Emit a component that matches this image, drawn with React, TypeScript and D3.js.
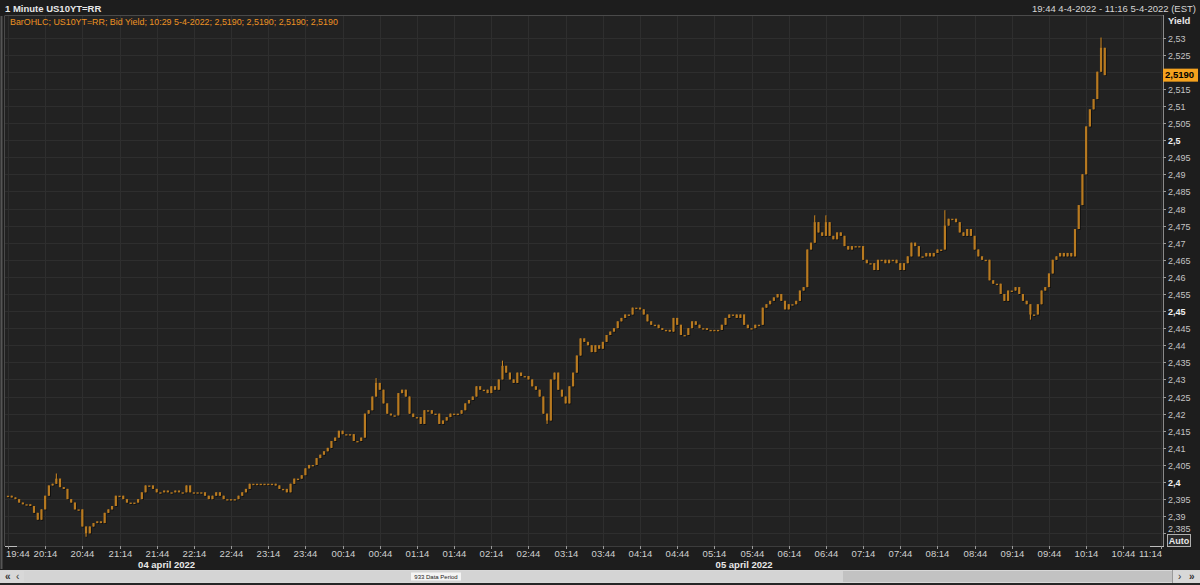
import React from 'react';
import * as d3 from 'd3';

const W = 1200;
const H = 585;

const titleText = '1 Minute US10YT=RR';
const rangeText = '19:44 4-4-2022 - 11:16 5-4-2022 (EST)';
const legendText = 'BarOHLC; US10YT=RR; Bid Yield; 10:29 5-4-2022; 2,5190; 2,5190; 2,5190; 2,5190';
const lastValue = 2.519;
const lastLabel = '2,5190';
const periodLabel = '933 Data Period';

const startTime = new Date(2022, 3, 4, 19, 44);
const endTime = new Date(2022, 3, 5, 11, 16);
const barStepMinutes = 3;

const closes = [
  2.396, 2.3955, 2.395, 2.394, 2.3935, 2.3935, 2.393, 2.391, 2.389, 2.392,
  2.396, 2.399, 2.3995, 2.401, 2.3985, 2.398, 2.395, 2.394, 2.392, 2.392,
  2.387, 2.385, 2.387, 2.388, 2.3885, 2.388, 2.391, 2.392, 2.393, 2.396,
  2.396, 2.395, 2.394, 2.394, 2.394, 2.395, 2.397, 2.399, 2.399, 2.398,
  2.397, 2.397, 2.3975, 2.397, 2.397, 2.3975, 2.397, 2.397, 2.399, 2.397,
  2.397, 2.397, 2.397, 2.396, 2.395, 2.396, 2.397, 2.396, 2.395, 2.395,
  2.395, 2.395, 2.396, 2.397, 2.398, 2.3995, 2.3995, 2.3995, 2.3995, 2.3995,
  2.3995, 2.3995, 2.399, 2.398, 2.398, 2.397, 2.3995, 2.401, 2.401, 2.402,
  2.404, 2.405, 2.405, 2.407, 2.408, 2.409, 2.41, 2.412, 2.413, 2.415,
  2.414, 2.414, 2.414, 2.412, 2.412, 2.413, 2.42, 2.421, 2.425, 2.429,
  2.427, 2.423, 2.42, 2.4195, 2.4195, 2.426, 2.427, 2.425, 2.42, 2.419,
  2.419, 2.417, 2.421, 2.421, 2.42, 2.42, 2.417, 2.418, 2.419, 2.42,
  2.42, 2.42, 2.421, 2.423, 2.424, 2.425, 2.428, 2.427, 2.427, 2.426,
  2.428, 2.427, 2.43, 2.434, 2.432, 2.43, 2.429, 2.432, 2.431, 2.431,
  2.43, 2.428, 2.427, 2.425, 2.42, 2.418, 2.43, 2.432, 2.427, 2.425,
  2.423, 2.428, 2.432, 2.437, 2.442, 2.441, 2.44, 2.438, 2.44, 2.439,
  2.441, 2.443, 2.444, 2.445, 2.447, 2.448, 2.449, 2.449, 2.451, 2.451,
  2.4505, 2.449, 2.447, 2.446, 2.446, 2.445, 2.4445, 2.4445, 2.444, 2.448,
  2.446, 2.443, 2.443, 2.445, 2.447, 2.446, 2.445, 2.445, 2.4445, 2.4445,
  2.4445, 2.4445, 2.446, 2.448, 2.449, 2.449, 2.448, 2.449, 2.446, 2.445,
  2.445, 2.446, 2.446, 2.451, 2.452, 2.453, 2.454, 2.455, 2.453, 2.4505,
  2.452, 2.452, 2.453, 2.456, 2.457, 2.468, 2.47, 2.476, 2.473, 2.472,
  2.476, 2.472, 2.471, 2.473, 2.472, 2.469, 2.468, 2.469, 2.469, 2.469,
  2.465, 2.464, 2.464, 2.462, 2.465, 2.465, 2.464, 2.465, 2.465, 2.464,
  2.462, 2.464, 2.466, 2.47, 2.469, 2.466, 2.466, 2.467, 2.466, 2.467,
  2.468, 2.468, 2.475, 2.477, 2.477, 2.476, 2.473, 2.472, 2.474, 2.472,
  2.468, 2.466, 2.465, 2.465, 2.459, 2.458, 2.458, 2.455, 2.453, 2.456,
  2.456, 2.457, 2.455, 2.453, 2.452, 2.449, 2.449, 2.452, 2.456, 2.457,
  2.461, 2.465, 2.466, 2.467, 2.466, 2.467, 2.466, 2.474, 2.481, 2.49,
  2.504, 2.509, 2.512, 2.52, 2.527, 2.519,
];

// intrabar extremes that stick out of the open-close range
const spikeIdx = [13, 21, 99, 133, 145, 217, 220, 252, 275, 294];
const spikeVal = [2.4025, 2.384, 2.4304, 2.4355, 2.417, 2.478, 2.478, 2.4795, 2.4475, 2.53];

const yTickValues = [
  2.385, 2.39, 2.395, 2.4, 2.405, 2.41, 2.415, 2.42, 2.425, 2.43,
  2.435, 2.44, 2.445, 2.45, 2.455, 2.46, 2.465, 2.47, 2.475, 2.48,
  2.485, 2.49, 2.495, 2.5, 2.505, 2.51, 2.515, 2.52, 2.525, 2.53,
];
const majorYTicks = [2.4, 2.45, 2.5];
const xTickCount = 32;
const xTickStepMinutes = 30;
const dayLabels = ['04 april 2022', '05 april 2022'];
const dayStarts = [new Date(2022, 3, 4, 19, 44), new Date(2022, 3, 5, 0, 0)];
const dayEnds = [new Date(2022, 3, 5, 0, 0), new Date(2022, 3, 5, 11, 16)];

const FONT = '"Liberation Sans", Arial, sans-serif';
const BG = '#222222';
const GRID = '#2e2e2e';

const PL = 5, PR = 1163, PT = 16, PB = 546;

export default function App() {
  const x = d3.scaleTime().domain([startTime, endTime]).range([8, 1163]);
  const y = d3.scaleLinear().domain([2.3813, 2.5363]).range([PB, PT]);
  const fmtY = (v: number) => d3.format('.3~f')(v).replace('.', ',');
  const fmtT = d3.timeFormat('%H:%M');

  const xTicks = d3.range(xTickCount).map((k) => d3.timeMinute.offset(startTime, k * xTickStepMinutes));

  const bars = closes.map((c, i) => {
    const t = d3.timeMinute.offset(startTime, i * barStepMinutes);
    const o = i === 0 ? c : closes[i - 1];
    let hi = Math.max(o, c);
    let lo = Math.min(o, c);
    const k = spikeIdx.indexOf(i);
    if (k >= 0) {
      hi = Math.max(hi, spikeVal[k]);
      lo = Math.min(lo, spikeVal[k]);
    }
    return { t, o, c, hi, lo };
  });

  const bodyW = 2.2;
  const lastY = y(lastValue);

  return (
    <div style={{ width: W, height: H, background: '#1d1d1d' }}>
      <style>{'body{margin:0;background:#1d1d1d;}'}</style>
      <svg width={W} height={H} style={{ display: 'block' }} fontFamily={FONT}>
        <rect x={0} y={0} width={W} height={H} fill="#1d1d1d" />
        {/* header */}
        <text x={5} y={11.5} fontSize={9.5} fontWeight="bold" fill="#e8e8e8">{titleText}</text>
        <text x={1196} y={11.5} fontSize={9.5} fill="#d6d6d6" textAnchor="end">{rangeText}</text>

        {/* plot background */}
        <rect x={PL} y={PT} width={PR - PL} height={PB - PT} fill={BG} />
        <clipPath id="plotclip">
          <rect x={PL} y={PT} width={PR - PL} height={PB - PT} />
        </clipPath>

        {/* grid */}
        <g clipPath="url(#plotclip)">
          {yTickValues.map((v) => (
            <line key={'gy' + v} x1={PL} x2={PR} y1={Math.round(y(v)) + 0.5} y2={Math.round(y(v)) + 0.5} stroke={GRID} strokeWidth={1} />
          ))}
          {xTicks.map((t, k) => (
            <line key={'gx' + k} x1={Math.round(x(t)) + 0.5} x2={Math.round(x(t)) + 0.5} y1={PT} y2={PB} stroke={GRID} strokeWidth={1} />
          ))}
        </g>

        {/* bars */}
        <g clipPath="url(#plotclip)">
          {bars.map((b, i) => {
            const cx = x(b.t);
            const yTop = y(Math.max(b.o, b.c));
            const h = Math.max(1.4, Math.abs(y(b.o) - y(b.c)));
            return (
              <g key={'s' + i}>
                <rect x={cx - bodyW / 2 + 0.8} y={yTop + 0.8} width={bodyW} height={h} fill="#0f0f0f" />
                <line x1={cx + 0.8} x2={cx + 0.8} y1={y(b.hi) + 0.8} y2={y(b.lo) + 0.8} stroke="#0f0f0f" strokeWidth={1} />
              </g>
            );
          })}
          {bars.map((b, i) => {
            const cx = x(b.t);
            const yTop = y(Math.max(b.o, b.c));
            const h = Math.max(1.4, Math.abs(y(b.o) - y(b.c)));
            return (
              <g key={'b' + i}>
                <line x1={cx} x2={cx} y1={y(b.hi)} y2={y(b.lo)} stroke="#d28a22" strokeWidth={1} />
                <rect x={cx - bodyW / 2} y={yTop} width={bodyW} height={h} fill="#b87a20" />
              </g>
            );
          })}
        </g>

        {/* legend */}
        <text x={10} y={25} fontSize={8.9} fill="#ee9322">{legendText}</text>

        {/* frame */}
        <line x1={PL - 0.5} x2={PR} y1={PT - 0.5} y2={PT - 0.5} stroke="#4a4a4a" />
        <line x1={PL - 0.5} x2={PL - 0.5} y1={PT} y2={PB} stroke="#4a4a4a" />
        <line x1={1.5} x2={1.5} y1={PT} y2={H - 16} stroke="#555555" strokeWidth={2} />
        <line x1={PR + 0.5} x2={PR + 0.5} y1={PT - 1} y2={PB + 1} stroke="#8a8a8a" />
        <line x1={PL} x2={PR + 1} y1={PB + 0.5} y2={PB + 0.5} stroke="#3c3c3c" />
        <line x1={PL} x2={PL + 12} y1={PB + 0.5} y2={PB + 0.5} stroke="#bdbdbd" />
        <line x1={PR - 13} x2={PR + 1} y1={PB + 0.5} y2={PB + 0.5} stroke="#bdbdbd" />

        {/* right axis */}
        <text x={1168} y={24} fontSize={9.5} fontWeight="bold" fill="#e8e8e8">Yield</text>
        {yTickValues.map((v) => {
          const yy = Math.round(y(v)) + 0.5;
          const major = majorYTicks.some((m) => Math.abs(m - v) < 1e-9);
          const hidden = Math.abs(yy - lastY) < 8;
          return (
            <g key={'yt' + v}>
              <line x1={PR} x2={PR + 3} y1={yy} y2={yy} stroke="#9a9a9a" />
              {!hidden && (
                <text x={1168} y={Math.min(yy, 529) + 3.3} fontSize={9} fill={major ? '#f0f0f0' : '#c4c4c4'} fontWeight={major ? 'bold' : 'normal'}>
                  {fmtY(v)}
                </text>
              )}
            </g>
          );
        })}
        <rect x={PR} y={lastY - 6.5} width={35} height={13} fill="#f5a21e" />
        <text x={PR + 2} y={lastY + 3.3} fontSize={9.5} fontWeight="bold" fill="#000">{lastLabel}</text>

        {/* auto button */}
        <rect x={1167.5} y={534.5} width={23} height={12} fill="#2a2a2a" stroke="#b0b0b0" />
        <text x={1179} y={544} fontSize={9} fontWeight="bold" fill="#e6e6e6" textAnchor="middle">Auto</text>

        {/* bottom axis */}
        {xTicks.map((t, k) => {
          const xx = Math.round(x(t)) + 0.5;
          const label = fmtT(t);
          let anchor: 'start' | 'middle' | 'end' = 'middle';
          let lx = xx;
          if (k === 0) { anchor = 'start'; lx = 6; }
          if (k === xTickCount - 1) { anchor = 'end'; lx = 1162; }
          return (
            <g key={'xt' + k}>
              <line x1={xx} x2={xx} y1={PB} y2={PB + 3} stroke="#9a9a9a" />
              <text x={lx} y={557} fontSize={9.5} fill="#d0d0d0" textAnchor={anchor}>{label}</text>
            </g>
          );
        })}
        {dayLabels.map((d, k) => (
          <text key={'d' + k} x={(x(dayStarts[k]) + x(dayEnds[k])) / 2} y={567.5} fontSize={9.5} fontWeight="bold" fill="#e8e8e8" textAnchor="middle">
            {d}
          </text>
        ))}

        {/* scrollbar */}
        <rect x={0} y={570} width={W} height={13} fill="#d8d8d8" />
        <rect x={24} y={571} width={1148} height={11} fill="#c2c2c2" />
        <rect x={24} y={571} width={819} height={11} fill="#d4d4d4" />
        <line x1={1172.5} x2={1172.5} y1={570} y2={583} stroke="#9a9a9a" />
        <rect x={411} y={572.5} width={50} height={8} fill="#f4f4f4" />
        <text x={436} y={579} fontSize={6} fill="#222" textAnchor="middle">{periodLabel}</text>
        <text x={5} y={580} fontSize={10} fontWeight="bold" fill="#333">«</text>
        <text x={16} y={580} fontSize={10} fill="#333">‹</text>
        <text x={1178} y={580} fontSize={10} fill="#333">›</text>
        <text x={1189} y={580} fontSize={10} fontWeight="bold" fill="#333">»</text>
        <rect x={0} y={583} width={W} height={2} fill="#262626" />
      </svg>
    </div>
  );
}
